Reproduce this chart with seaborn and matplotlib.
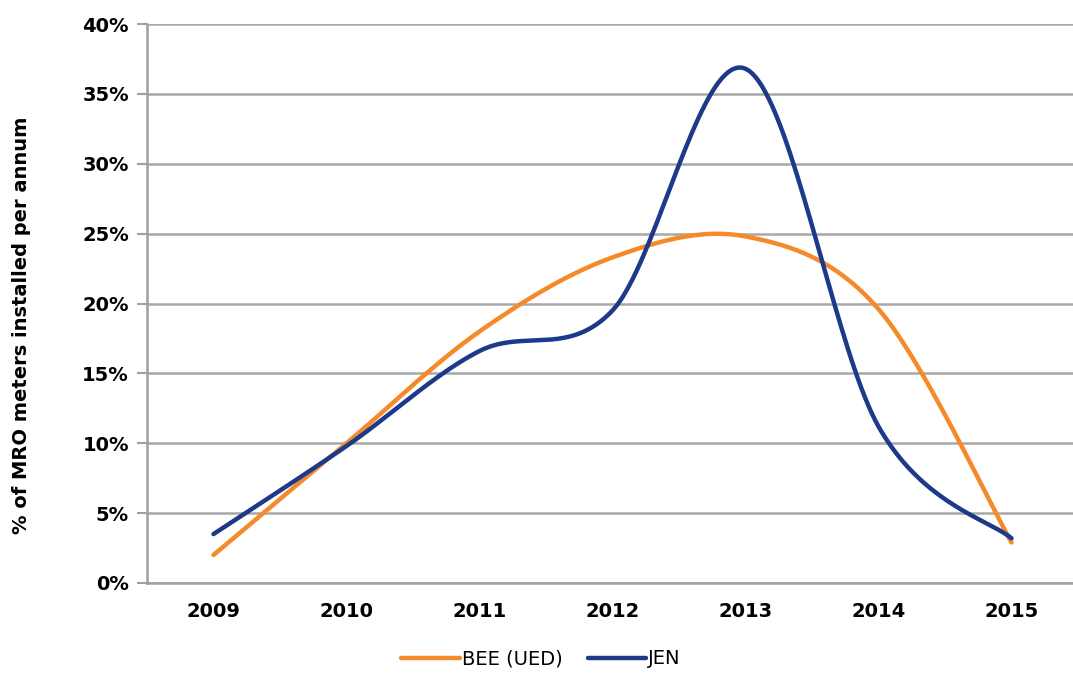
import numpy as np
import pandas as pd
import matplotlib
matplotlib.use("Agg")
import matplotlib.pyplot as plt
from matplotlib.lines import Line2D
from matplotlib.ticker import FixedLocator
import seaborn as sns

years = ["2009", "2010", "2011", "2012", "2013", "2014", "2015"]
bee_ued = [2.0, 10.0, 18.0, 23.3, 24.8, 19.6, 2.9]
jen = [3.5, 9.8, 16.6, 19.5, 36.8, 11.2, 3.2]
y_ticks = [0, 5, 10, 15, 20, 25, 30, 35, 40]
series_names = ["BEE (UED)", "JEN"]
colors = ["#F58A2B", "#1D3A8A"]


def smooth(xs, ys, n=40):
    """Excel-style smoothed line: cubic Bezier between consecutive points."""
    xs = np.asarray(xs, float)
    ys = np.asarray(ys, float)
    px = np.concatenate([[xs[0]], xs, [xs[-1]]])
    py = np.concatenate([[ys[0]], ys, [ys[-1]]])
    out_x, out_y = [], []
    t = np.linspace(0, 1, n)
    for i in range(1, len(px) - 2):
        p0 = np.array([px[i], py[i]])
        p3 = np.array([px[i + 1], py[i + 1]])
        p1 = p0 + (np.array([px[i + 1], py[i + 1]]) - np.array([px[i - 1], py[i - 1]])) / 6
        p2 = p3 - (np.array([px[i + 2], py[i + 2]]) - np.array([px[i], py[i]])) / 6
        b = ((1 - t) ** 3)[:, None] * p0 + (3 * (1 - t) ** 2 * t)[:, None] * p1 \
            + (3 * (1 - t) * t ** 2)[:, None] * p2 + (t ** 3)[:, None] * p3
        if i > 1:
            b = b[1:]
        out_x.extend(b[:, 0])
        out_y.extend(b[:, 1])
    return np.array(out_x), np.array(out_y)


sns.set_style("white")
plt.rcParams["font.family"] = ["DejaVu Sans"]
plt.rcParams["text.color"] = "black"
plt.rcParams["axes.labelcolor"] = "black"
plt.rcParams["xtick.labelcolor"] = "black"
plt.rcParams["ytick.labelcolor"] = "black"

fig = plt.figure(figsize=(10.73, 6.73), dpi=100)
ax = fig.add_axes([147 / 1073, 90 / 673, 931 / 1073, 559 / 673])

idx = np.arange(len(years))
frames = []
for name, vals in zip(series_names, [bee_ued, jen]):
    sx, sy = smooth(idx, vals)
    frames.append(pd.DataFrame({"x": sx, "y": sy, "series": name}))
df = pd.concat(frames, ignore_index=True)

sns.lineplot(data=df, x="x", y="y", hue="series", palette=dict(zip(series_names, colors)),
             sort=False, estimator=None, units="series", linewidth=3.2, ax=ax, legend=False,
             solid_capstyle="round")

ax.set_xlim(-0.5, len(years) - 0.5)
ax.set_ylim(0, 40)
ax.set_yticks(y_ticks)
ax.set_yticklabels([f"{v}%" for v in y_ticks], fontsize=14, fontweight="bold", color="black")
ax.set_xticks(idx)
ax.set_xticklabels(years, fontsize=14, fontweight="bold", color="black")
ax.xaxis.set_minor_locator(FixedLocator(np.arange(-0.5, len(years), 1.0)))
ax.tick_params(axis="x", which="major", length=0, pad=14)
ax.tick_params(axis="x", which="minor", length=6, width=1.5, color="#A0A0A0", direction="out")
ax.tick_params(axis="y", length=7, width=1.5, color="#A0A0A0", direction="out", pad=6, left=True)

ax.grid(axis="y", color="#A8A8A8", linewidth=1.8)
ax.grid(axis="x", visible=False)
ax.set_axisbelow(True)
for side in ["top", "right"]:
    ax.spines[side].set_visible(False)
for side in ["left", "bottom"]:
    ax.spines[side].set_color("#A0A0A0")
    ax.spines[side].set_linewidth(1.8)

ax.set_xlabel("")
ax.set_ylabel("% of MRO meters installed per annum", fontsize=14, fontweight="bold", color="black")
ax.yaxis.set_label_coords((31 - 147) / 931, (583 - 325) / 559)

handles = [Line2D([0], [0], color=c, linewidth=3.2, solid_capstyle="round") for c in colors]
fig.legend(handles, series_names, loc="center", bbox_to_anchor=(541 / 1073, 1 - 659 / 673),
           ncol=2, frameon=False, fontsize=14, handlelength=3.0, handletextpad=0.1,
           columnspacing=1.3)

fig.savefig("out.png", dpi=100)
